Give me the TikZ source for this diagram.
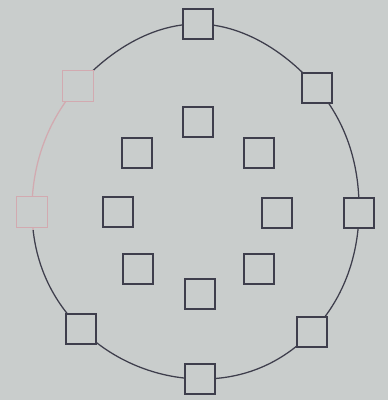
\documentclass[tikz,border=0pt]{standalone}
\definecolor{papergray}{RGB}{201,205,204}
\definecolor{inkgray}{RGB}{62,62,76}
\definecolor{fadedred}{RGB}{210,170,176}
\usepackage{tikz}
\usetikzlibrary{positioning, backgrounds}

\begin{document}
\begin{tikzpicture}[x=0.025cm, y=-0.025cm,
  cell/.style={draw=inkgray, line width=1.3pt, fill=papergray, minimum width=0.76cm, minimum height=0.76cm, inner sep=0pt},
  ghost/.style={draw=fadedred, line width=0.9pt, fill=papergray, minimum width=0.76cm, minimum height=0.76cm, inner sep=0pt},
  rim/.style={draw=inkgray, line width=0.9pt},
  faderim/.style={draw=fadedred, line width=0.9pt}
]

\useasboundingbox (0,0) rectangle (388,400);

% squares on the ring
\node[cell]  (top)    at (198, 24)  {};
\node[cell]  (topr)   at (317, 88)  {};
\node[cell]  (right)  at (359, 213) {};
\node[cell]  (botr)   at (312, 332) {};
\node[cell]  (bot)    at (200, 379) {};
\node[cell]  (botl)   at (81, 329)  {};
\node[ghost] (left)   at (32, 212)  {};
\node[ghost] (topl)   at (78, 86)   {};

% squares inside
\node[cell] (intop)   at (198, 122) {};
\node[cell] (intopl)  at (137, 153) {};
\node[cell] (intopr)  at (259, 153) {};
\node[cell] (inleft)  at (118, 212) {};
\node[cell] (inright) at (277, 213) {};
\node[cell] (inbotl)  at (138, 269) {};
\node[cell] (inbotr)  at (259, 269) {};
\node[cell] (inbot)   at (200, 294) {};

% paper and ring behind the squares
\begin{scope}[on background layer]
  \fill[papergray] (0,0) rectangle (388,400);
  \begin{scope}
    \clip (196,201) -- (-40,-29) -- (-40,-100) -- (500,-100) -- (500,500) -- (-40,500) -- (-40,243) -- cycle;
    \draw[rim] plot[smooth cycle, tension=0.68] coordinates {(top.center) (topr.center) (right.center) (botr.center) (bot.center) (botl.center) (left.center) (topl.center)};
  \end{scope}
  \begin{scope}
    \clip (196,201) -- (-40,-29) -- (-40,243) -- cycle;
    \draw[faderim] plot[smooth cycle, tension=0.68] coordinates {(top.center) (topr.center) (right.center) (botr.center) (bot.center) (botl.center) (left.center) (topl.center)};
  \end{scope}
\end{scope}

\end{tikzpicture}
\end{document}
